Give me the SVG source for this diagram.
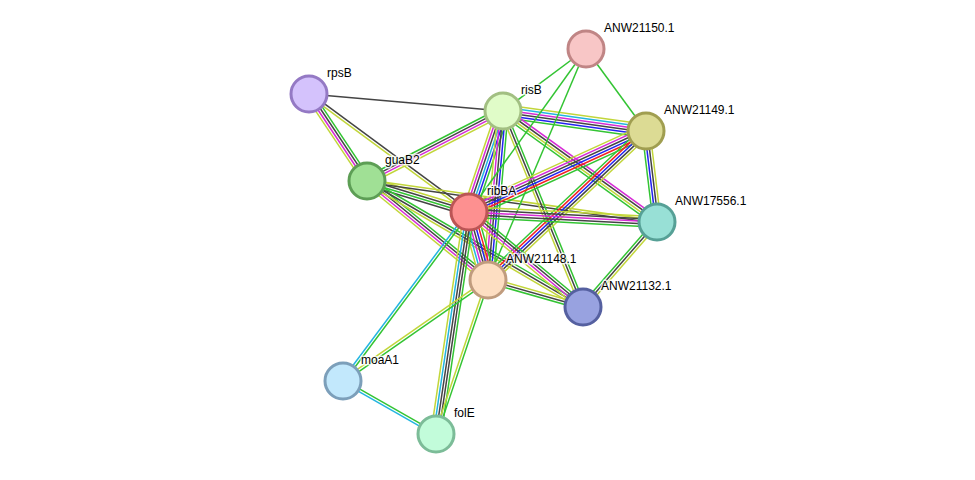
<svg xmlns="http://www.w3.org/2000/svg" width="975" height="480" viewBox="0 0 975 480">
<style>
line{stroke-width:1.5;fill:none}
.g{stroke:#33c433}.r{stroke:#f22222}.b{stroke:#2222f0}.k{stroke:#444}.m{stroke:#d62bd6}.c{stroke:#22b5e0}.y{stroke:#c2d63a}
circle{stroke-width:3}
text{font-family:"Liberation Sans",Arial,sans-serif;font-size:12px;fill:#000;stroke:#fff;stroke-width:3;stroke-opacity:0.8;paint-order:stroke;stroke-linejoin:round}
</style>
<rect width="975" height="480" fill="#fff"/>
<g id="edges">
<g transform="translate(309 94) rotate(5.01)"><line class="k" x1="0" y1="0" x2="194.7" y2="0"/></g>
<g transform="translate(309 94) rotate(56.31)"><line class="g" x1="0" y1="-3.9" x2="104.6" y2="-3.9"/><line class="k" x1="0" y1="-1.3" x2="104.6" y2="-1.3"/><line class="m" x1="0" y1="1.3" x2="104.6" y2="1.3"/><line class="y" x1="0" y1="3.9" x2="104.6" y2="3.9"/></g>
<g transform="translate(309 94) rotate(36.41)"><line class="k" x1="0" y1="-1.3" x2="198.8" y2="-1.3"/><line class="y" x1="0" y1="1.3" x2="198.8" y2="1.3"/></g>
<g transform="translate(367 181) rotate(-27.24)"><line class="g" x1="0" y1="-3.9" x2="153" y2="-3.9"/><line class="k" x1="0" y1="-1.3" x2="153" y2="-1.3"/><line class="m" x1="0" y1="1.3" x2="153" y2="1.3"/><line class="y" x1="0" y1="3.9" x2="153" y2="3.9"/></g>
<g transform="translate(367 181) rotate(16.9)"><line class="y" x1="0" y1="-3.9" x2="106.6" y2="-3.9"/><line class="k" x1="0" y1="-1.3" x2="106.6" y2="-1.3"/><line class="g" x1="0" y1="1.3" x2="106.6" y2="1.3"/><line class="k" x1="0" y1="3.9" x2="106.6" y2="3.9"/></g>
<g transform="translate(367 181) rotate(8.05)"><line class="y" x1="0" y1="-1.3" x2="292.9" y2="-1.3"/><line class="k" x1="0" y1="1.3" x2="292.9" y2="1.3"/></g>
<g transform="translate(367 181) rotate(39.29)"><line class="g" x1="0" y1="-3.9" x2="156.3" y2="-3.9"/><line class="k" x1="0" y1="-1.3" x2="156.3" y2="-1.3"/><line class="m" x1="0" y1="1.3" x2="156.3" y2="1.3"/><line class="y" x1="0" y1="3.9" x2="156.3" y2="3.9"/></g>
<g transform="translate(367 181) rotate(30.26)"><line class="g" x1="0" y1="-2.6" x2="250.1" y2="-2.6"/><line class="k" x1="0" y1="0" x2="250.1" y2="0"/><line class="y" x1="0" y1="2.6" x2="250.1" y2="2.6"/></g>
<g transform="translate(503 111) rotate(7.96)"><line class="y" x1="0" y1="-6.5" x2="144.4" y2="-6.5"/><line class="c" x1="0" y1="-3.9" x2="144.4" y2="-3.9"/><line class="m" x1="0" y1="-1.3" x2="144.4" y2="-1.3"/><line class="k" x1="0" y1="1.3" x2="144.4" y2="1.3"/><line class="b" x1="0" y1="3.9" x2="144.4" y2="3.9"/><line class="g" x1="0" y1="6.5" x2="144.4" y2="6.5"/></g>
<g transform="translate(503 111) rotate(108.61)"><line class="g" x1="0" y1="-6.5" x2="106.6" y2="-6.5"/><line class="b" x1="0" y1="-3.9" x2="106.6" y2="-3.9"/><line class="c" x1="0" y1="-1.3" x2="106.6" y2="-1.3"/><line class="k" x1="0" y1="1.3" x2="106.6" y2="1.3"/><line class="m" x1="0" y1="3.9" x2="106.6" y2="3.9"/><line class="y" x1="0" y1="6.5" x2="106.6" y2="6.5"/></g>
<g transform="translate(503 111) rotate(95.07)"><line class="g" x1="0" y1="-5.2" x2="169.7" y2="-5.2"/><line class="b" x1="0" y1="-2.6" x2="169.7" y2="-2.6"/><line class="k" x1="0" y1="0" x2="169.7" y2="0"/><line class="m" x1="0" y1="2.6" x2="169.7" y2="2.6"/><line class="y" x1="0" y1="5.2" x2="169.7" y2="5.2"/></g>
<g transform="translate(503 111) rotate(35.78)"><line class="m" x1="0" y1="-3.9" x2="189.8" y2="-3.9"/><line class="k" x1="0" y1="-1.3" x2="189.8" y2="-1.3"/><line class="y" x1="0" y1="1.3" x2="189.8" y2="1.3"/><line class="g" x1="0" y1="3.9" x2="189.8" y2="3.9"/></g>
<g transform="translate(503 111) rotate(67.8)"><line class="g" x1="0" y1="-2.6" x2="211.7" y2="-2.6"/><line class="k" x1="0" y1="0" x2="211.7" y2="0"/><line class="y" x1="0" y1="2.6" x2="211.7" y2="2.6"/></g>
<g transform="translate(586 49) rotate(143.24)"><line class="g" x1="0" y1="0" x2="103.6" y2="0"/></g>
<g transform="translate(586 49) rotate(125.67)"><line class="g" x1="0" y1="0" x2="200.6" y2="0"/></g>
<g transform="translate(586 49) rotate(112.99)"><line class="g" x1="0" y1="0" x2="250.9" y2="0"/></g>
<g transform="translate(586 49) rotate(53.81)"><line class="g" x1="0" y1="0" x2="101.6" y2="0"/></g>
<g transform="translate(469 212) rotate(-24.59)"><line class="y" x1="0" y1="-6.5" x2="194.7" y2="-6.5"/><line class="m" x1="0" y1="-3.9" x2="194.7" y2="-3.9"/><line class="k" x1="0" y1="-1.3" x2="194.7" y2="-1.3"/><line class="b" x1="0" y1="1.3" x2="194.7" y2="1.3"/><line class="r" x1="0" y1="3.9" x2="194.7" y2="3.9"/><line class="g" x1="0" y1="6.5" x2="194.7" y2="6.5"/></g>
<g transform="translate(488 280) rotate(-43.32)"><line class="g" x1="0" y1="-5.2" x2="217.2" y2="-5.2"/><line class="r" x1="0" y1="-2.6" x2="217.2" y2="-2.6"/><line class="b" x1="0" y1="0" x2="217.2" y2="0"/><line class="k" x1="0" y1="2.6" x2="217.2" y2="2.6"/><line class="y" x1="0" y1="5.2" x2="217.2" y2="5.2"/></g>
<g transform="translate(646 131) rotate(83.11)"><line class="y" x1="0" y1="-3.9" x2="91.7" y2="-3.9"/><line class="k" x1="0" y1="-1.3" x2="91.7" y2="-1.3"/><line class="b" x1="0" y1="1.3" x2="91.7" y2="1.3"/><line class="g" x1="0" y1="3.9" x2="91.7" y2="3.9"/></g>
<g transform="translate(469 212) rotate(3.04)"><line class="y" x1="0" y1="-5.2" x2="188.3" y2="-5.2"/><line class="k" x1="0" y1="-2.6" x2="188.3" y2="-2.6"/><line class="m" x1="0" y1="0" x2="188.3" y2="0"/><line class="k" x1="0" y1="2.6" x2="188.3" y2="2.6"/><line class="g" x1="0" y1="5.2" x2="188.3" y2="5.2"/></g>
<g transform="translate(469 212) rotate(74.39)"><line class="g" x1="0" y1="-7.8" x2="70.6" y2="-7.8"/><line class="r" x1="0" y1="-5.2" x2="70.6" y2="-5.2"/><line class="b" x1="0" y1="-2.6" x2="70.6" y2="-2.6"/><line class="k" x1="0" y1="0" x2="70.6" y2="0"/><line class="m" x1="0" y1="2.6" x2="70.6" y2="2.6"/><line class="c" x1="0" y1="5.2" x2="70.6" y2="5.2"/><line class="y" x1="0" y1="7.8" x2="70.6" y2="7.8"/></g>
<g transform="translate(469 212) rotate(39.81)"><line class="g" x1="0" y1="-3.9" x2="148.4" y2="-3.9"/><line class="k" x1="0" y1="-1.3" x2="148.4" y2="-1.3"/><line class="m" x1="0" y1="1.3" x2="148.4" y2="1.3"/><line class="y" x1="0" y1="3.9" x2="148.4" y2="3.9"/></g>
<g transform="translate(469 212) rotate(98.45)"><line class="g" x1="0" y1="-5.2" x2="224.4" y2="-5.2"/><line class="k" x1="0" y1="-2.6" x2="224.4" y2="-2.6"/><line class="k" x1="0" y1="0" x2="224.4" y2="0"/><line class="c" x1="0" y1="2.6" x2="224.4" y2="2.6"/><line class="y" x1="0" y1="5.2" x2="224.4" y2="5.2"/></g>
<g transform="translate(469 212) rotate(126.71)"><line class="g" x1="0" y1="-1.3" x2="210.8" y2="-1.3"/><line class="c" x1="0" y1="1.3" x2="210.8" y2="1.3"/></g>
<g transform="translate(488 280) rotate(145.14)"><line class="g" x1="0" y1="-1.3" x2="176.7" y2="-1.3"/><line class="y" x1="0" y1="1.3" x2="176.7" y2="1.3"/></g>
<g transform="translate(488 280) rotate(108.66)"><line class="g" x1="0" y1="-1.3" x2="162.5" y2="-1.3"/><line class="y" x1="0" y1="1.3" x2="162.5" y2="1.3"/></g>
<g transform="translate(488 280) rotate(15.87)"><line class="y" x1="0" y1="-2.6" x2="98.8" y2="-2.6"/><line class="k" x1="0" y1="0" x2="98.8" y2="0"/><line class="g" x1="0" y1="2.6" x2="98.8" y2="2.6"/></g>
<g transform="translate(657 222) rotate(131.04)"><line class="y" x1="0" y1="-2.6" x2="112.7" y2="-2.6"/><line class="k" x1="0" y1="0" x2="112.7" y2="0"/><line class="g" x1="0" y1="2.6" x2="112.7" y2="2.6"/></g>
<g transform="translate(343 381) rotate(29.68)"><line class="g" x1="0" y1="-1.3" x2="107" y2="-1.3"/><line class="c" x1="0" y1="1.3" x2="107" y2="1.3"/></g>
</g>
<g id="ANW21150.1"><circle cx="586" cy="49" r="18" fill="#f8c6c6" stroke="#c08585"/><text x="604" y="32">ANW21150.1</text></g>
<g id="rpsB"><circle cx="309" cy="94" r="18" fill="#d4c2fc" stroke="#9479c4"/><text x="327" y="77">rpsB</text></g>
<g id="risB"><circle cx="503" cy="111" r="18" fill="#e0fcc8" stroke="#a2bf82"/><text x="521" y="94">risB</text></g>
<g id="ANW21149.1"><circle cx="646" cy="131" r="18" fill="#dcdb94" stroke="#a09e50"/><text x="664" y="114">ANW21149.1</text></g>
<g id="guaB2"><circle cx="367" cy="181" r="18" fill="#a0e095" stroke="#5d9e55"/><text x="385" y="164">guaB2</text></g>
<g id="ribBA"><circle cx="469" cy="212" r="18" fill="#fd9090" stroke="#bb5555"/><text x="487" y="195">ribBA</text></g>
<g id="ANW17556.1"><circle cx="657" cy="222" r="18" fill="#98e0d6" stroke="#56a096"/><text x="675" y="205">ANW17556.1</text></g>
<g id="ANW21148.1"><circle cx="488" cy="280" r="18" fill="#fddec2" stroke="#c09c7e"/><text x="506" y="263">ANW21148.1</text></g>
<g id="ANW21132.1"><circle cx="583" cy="307" r="18" fill="#98a2e0" stroke="#5560a0"/><text x="601" y="290">ANW21132.1</text></g>
<g id="moaA1"><circle cx="343" cy="381" r="18" fill="#c2e8fc" stroke="#7c9fba"/><text x="361" y="364">moaA1</text></g>
<g id="folE"><circle cx="436" cy="434" r="18" fill="#c2fcda" stroke="#7cbc98"/><text x="454" y="417">folE</text></g>
</svg>
